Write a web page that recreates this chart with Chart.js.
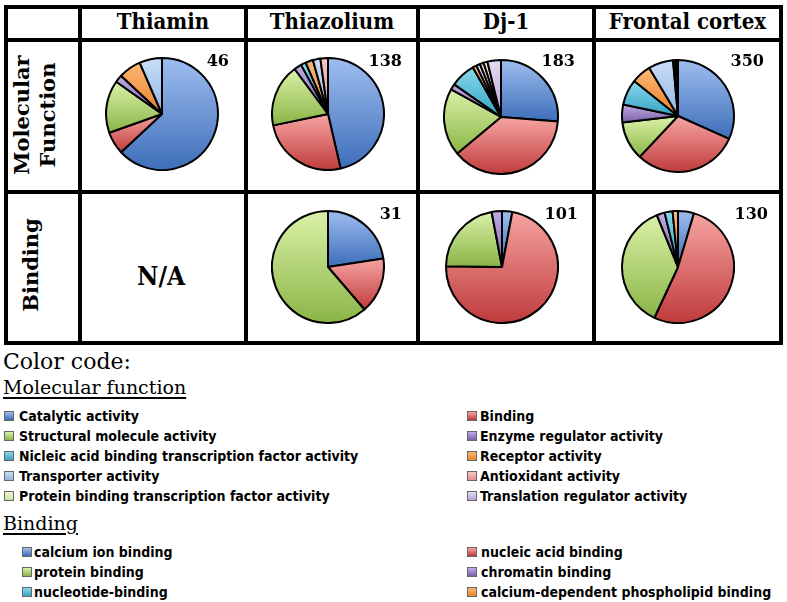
<!DOCTYPE html>
<html>
<head>
<meta charset="utf-8">
<script src="https://cdn.jsdelivr.net/npm/chart.js@4.4.1/dist/chart.umd.min.js"></script>
<style>
  html, body { margin: 0; padding: 0; background: #fff; }
  #fig { position: relative; width: 787px; height: 602px; overflow: hidden; background: #fff; }
  .ln { position: absolute; background: #000; }
  .colhead { position: absolute; top: 8px; height: 33px; line-height: 33px; text-align: center;
    font: bold 22px "DejaVu Serif Condensed", "DejaVu Serif", serif; font-stretch: condensed; color: #000; }
  .rowhead { position: absolute; text-align: center; transform: rotate(-90deg);
    font: bold 21px "DejaVu Serif", serif; color: #000; line-height: 26px; }
  .total { position: absolute; font: bold 16px "DejaVu Serif", serif; line-height: 16px; color: #000; text-align: right; }
  .na { position: absolute; font: bold 26px "DejaVu Serif Condensed", "DejaVu Serif", serif; font-stretch: condensed; }
  canvas.pie { position: absolute; }
  .h1 { position: absolute; left: 3px; font: 22px "DejaVu Serif", serif; line-height: 22px; }
  .h2 { position: absolute; left: 3px; font: 19px "DejaVu Serif", serif; line-height: 20px;
    text-decoration: underline; text-decoration-thickness: 2px; text-underline-offset: 3px; }
  .item { position: absolute; font: bold 14px "DejaVu Sans Condensed", "DejaVu Sans", sans-serif; font-stretch: condensed;
    line-height: 20px; white-space: nowrap; }
  .sw { position: absolute; width: 8px; height: 8px; border: 1px solid #666; }
</style>
</head>
<body>
<div id="fig"></div>
<script>
// columns and categories
const columns = ['Thiamin', 'Thiazolium', 'Dj-1', 'Frontal cortex'];
const rowNames = [['Molecular', 'Function'], ['Binding']];

const mfCategories = ['Catalytic activity', 'Binding', 'Structural molecule activity', 'Enzyme regulator activity',
  'Nicleic acid binding transcription factor activity', 'Receptor activity', 'Transporter activity',
  'Antioxidant activity', 'Protein binding transcription factor activity', 'Translation regulator activity'];
const bindCategories = ['calcium ion binding', 'nucleic acid binding', 'protein binding', 'chromatin binding',
  'nucleotide-binding', 'calcium-dependent phospholipid binding'];

// molecular function counts
const mfThiamin    = [29, 3, 7, 1, 0, 3, 3, 0, 0, 0];
const mfThiazolium = [64, 35, 25, 3, 2, 3, 3, 3, 0, 0];
const mfDj1        = [48, 69, 35, 3, 13, 2, 2, 2, 2, 7];
const mfFrontal    = [111, 106, 39, 18, 26, 20, 25, 2, 1, 2];
const mfTotals     = [46, 138, 183, 350];

// binding counts
const bindThiazolium = [7, 5, 19, 0, 0, 0];
const bindDj1        = [3, 73, 22, 3, 0, 0];
const bindFrontal    = [6, 68, 48, 3, 3, 2];
const bindTotals     = [null, 31, 101, 130];

// light -> dark gradient pairs
const mfColors = [
  ['#9FBEF0', '#3D6EB9'], ['#F6A5A3', '#BF3A3A'], ['#DBF2A8', '#8AB446'], ['#C2AEE4', '#7A5FA8'],
  ['#88D9EC', '#36A2C2'], ['#FDBA76', '#E97E2C'], ['#CADFF8', '#93B5E2'], ['#F9C8C7', '#E58E8C'],
  ['#EEF8D8', '#C7E29A'], ['#E6DCF3', '#B8A4D6']
];
const bindColors = mfColors.slice(0, 6);

const fig = document.getElementById('fig');
function el(cls, css, text) {
  const d = document.createElement('div');
  d.className = cls;
  Object.assign(d.style, css);
  if (text != null) d.textContent = text;
  fig.appendChild(d);
  return d;
}

// table grid
const vx = [4, 78, 244, 416, 592, 779];
const hy = [5, 38, 190, 341];
vx.forEach(x => el('ln', { left: x + 'px', top: '5px', width: '4px', height: '340px' }));
hy.forEach(y => el('ln', { left: '4px', top: y + 'px', width: '779px', height: '4px' }));

columns.forEach((c, i) => {
  const l = vx[i + 1] + 4, r = vx[i + 2];
  el('colhead', { left: l + 'px', width: (r - l) + 'px' }, c);
});

const rh1 = el('rowhead', { left: '-41px', top: '89px', width: '152px', height: '52px' });
rh1.innerHTML = rowNames[0].join('<br>');
el('rowhead', { left: '-44px', top: '252px', width: '150px', height: '26px' }, rowNames[1][0]);

el('na', { left: '137px', top: '261px' }, 'N/A');

function sliceFill(colors) {
  return function (ctx) {
    const pal = colors[ctx.dataIndex];
    const chart = ctx.chart;
    const area = chart.chartArea;
    if (!area) return pal[1];
    const data = ctx.dataset.data;
    const total = data.reduce((a, b) => a + b, 0);
    let before = 0;
    for (let i = 0; i < ctx.dataIndex; i++) before += data[i];
    const a0 = -Math.PI / 2 + before / total * 2 * Math.PI;
    const a1 = a0 + data[ctx.dataIndex] / total * 2 * Math.PI;
    const cy = (area.top + area.bottom) / 2;
    const r = Math.min(area.width, area.height) / 2;
    const ys = [cy, cy + r * Math.sin(a0), cy + r * Math.sin(a1)];
    [-Math.PI / 2, Math.PI / 2, 3 * Math.PI / 2].forEach(t => {
      if (t >= a0 && t <= a1) ys.push(cy + r * Math.sin(t));
    });
    let y0 = Math.min(...ys), y1 = Math.max(...ys);
    if (y1 - y0 < 1) y1 = y0 + 1;
    const g = chart.ctx.createLinearGradient(0, y0, 0, y1);
    g.addColorStop(0, pal[0]);
    g.addColorStop(1, pal[1]);
    return g;
  };
}

function pie(cx, cy, R, labels, values, colors) {
  const size = 2 * R + 4;
  const cv = document.createElement('canvas');
  cv.className = 'pie';
  cv.width = size; cv.height = size;
  cv.style.left = (cx - size / 2) + 'px';
  cv.style.top = (cy - size / 2) + 'px';
  cv.style.width = size + 'px'; cv.style.height = size + 'px';
  fig.appendChild(cv);
  new Chart(cv, {
    type: 'pie',
    data: {
      labels: labels,
      datasets: [{
        data: values,
        backgroundColor: sliceFill(colors),
        borderColor: '#000',
        borderWidth: 2
      }]
    },
    options: {
      responsive: false,
      animation: false,
      events: [],
      layout: { padding: 0 },
      plugins: { legend: { display: false }, tooltip: { enabled: false } }
    }
  });
}

// molecular function row
pie(162, 114, 55, mfCategories, mfThiamin, mfColors);
pie(328, 114, 55, mfCategories, mfThiazolium, mfColors);
pie(501, 117, 56, mfCategories, mfDj1, mfColors);
pie(678, 116, 55, mfCategories, mfFrontal, mfColors);
// binding row
pie(328, 267, 55, bindCategories, bindThiazolium, bindColors);
pie(502, 267, 55, bindCategories, bindDj1, bindColors);
pie(678, 267, 55, bindCategories, bindFrontal, bindColors);

// totals
const mfRight = [229, 402, 575, 764];
const bindRight = [0, 402, 578, 768];
mfTotals.forEach((t, i) => el('total', { right: (787 - mfRight[i]) + 'px', top: '53px' }, String(t)));
bindTotals.forEach((t, i) => { if (t != null) el('total', { right: (787 - bindRight[i]) + 'px', top: '206px' }, String(t)); });

// legend
el('h1', { top: '351px' }, 'Color code:');
el('h2', { top: '377px' }, 'Molecular function');
mfCategories.forEach((c, i) => {
  const col = i % 2, row = Math.floor(i / 2);
  const cy = 416 + row * 20;
  const sx = col ? 467 : 4, tx = col ? 480 : 19;
  el('sw', { left: sx + 'px', top: (cy - 5) + 'px', background: 'linear-gradient(' + mfColors[i][0] + ',' + mfColors[i][1] + ')' });
  el('item', { left: tx + 'px', top: (cy - 10) + 'px' }, c);
});
el('h2', { top: '513px' }, 'Binding');
bindCategories.forEach((c, i) => {
  const col = i % 2, row = Math.floor(i / 2);
  const cy = 552 + row * 20;
  const sx = col ? 467 : 22, tx = col ? 481 : 34;
  el('sw', { left: sx + 'px', top: (cy - 5) + 'px', background: 'linear-gradient(' + bindColors[i][0] + ',' + bindColors[i][1] + ')' });
  el('item', { left: tx + 'px', top: (cy - 10) + 'px' }, c);
});
</script>
</body>
</html>
